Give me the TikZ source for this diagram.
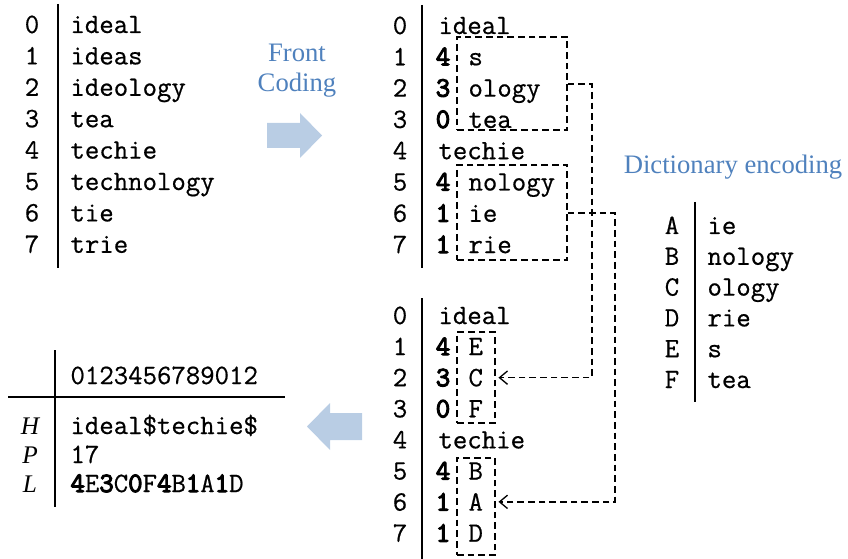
\documentclass[tikz,border=0pt]{standalone}
\usepackage{fontspec}
\setmainfont{Liberation Serif}
\setmonofont{Latin Modern Mono}[FakeBold=0.6]
\newfontfamily\monobold{Latin Modern Mono}[FakeBold=4]
\newcommand\bd[1]{{\monobold #1}}
\usetikzlibrary{arrows.meta,fit}

\definecolor{labelblue}{RGB}{79,129,189}
\definecolor{arrowblue}{RGB}{185,205,228}

\tikzset{every picture/.style={line width=0.75pt}}
\tikzset{
  mono/.style={inner sep=0pt, font=\fontsize{21}{24}\ttfamily},
  monob/.style={inner sep=0pt, font=\fontsize{21}{24}\monobold},
  sym/.style={inner sep=0pt, font=\fontsize{19}{22}\selectfont\itshape},
  rule/.style={line width=1.5pt},
  dashbox/.style={draw, line width=1.2pt, dash pattern={on 5pt off 3pt}, inner sep=0pt},
  link/.style={line width=1.2pt, dash pattern={on 5pt off 3pt}, -{Straight Barb[length=6pt,width=10pt,line width=1pt]}},
  caption/.style={inner sep=0pt, align=center, text=labelblue, font=\fontsize{20}{22.5}\selectfont},
  bigarrow/.style={fill=arrowblue, draw=none}
}

\begin{document}
\begin{tikzpicture}[x=0.75pt,y=0.75pt,yscale=-1,xscale=1]
	\useasboundingbox (0,0) rectangle (848,559);

	%Table: sorted strings
	\draw[rule] (58,4) -- (58,268);
	\foreach \w [count=\i from 0] in {ideal,ideas,ideology,tea,techie,technology,tie,trie}{
		\node[mono, anchor=base] (li\i) at (32,{33+31.4*\i}) {\i};
		\node[mono, anchor=base west] (lw\i) at (70,{33+31.4*\i}) {\w};
	}

	%Label + arrow: front coding
	\node[caption] (fclabel) at (297,71) {Front\\Coding};
	\draw[bigarrow] (267,123) -- (300,123) -- (300,113) -- (322,135.5) -- (300,158) -- (300,148) -- (267,148) -- cycle;

	%Table: front coded
	\draw[rule] (422,5) -- (422,268);
	\foreach \i in {0,...,7}{
		\node[mono, anchor=base] (fi\i) at (400,{34+31.3*\i}) {\i};
	}
	\node[mono, anchor=base west] (fw0) at (438,34) {ideal};
	\node[mono, anchor=base west] (fw4) at (438,159.2) {techie};
	\foreach \i/\p/\s in {1/4/s,2/3/ology,3/0/tea,5/4/nology,6/1/ie,7/1/rie}{
		\node[monob, anchor=base] (fp\i) at (443,{34+31.3*\i}) {\p};
		\node[mono, anchor=base west] (fs\i) at (468,{34+31.3*\i}) {\s};
	}
	\node[dashbox, fit={(457,37) (567,130)}] (boxS) {};
	\node[dashbox, fit={(457,165) (567,260)}] (boxN) {};

	%Label + table: dictionary
	\node[caption] (dictlabel) at (733,167) {Dictionary encoding};
	\draw[rule] (695,202) -- (695,402);
	\foreach \k/\v [count=\i from 0] in {A/ie,B/nology,C/ology,D/rie,E/s,F/tea}{
		\node[mono, anchor=base] (dk\i) at (672,{234+30.8*\i}) {\k};
		\node[mono, anchor=base west] (dv\i) at (707,{234+30.8*\i}) {\v};
	}

	%Table: dictionary coded
	\draw[rule] (422,298) -- (422,559);
	\foreach \i in {0,...,7}{
		\node[mono, anchor=base] (bi\i) at (400,{324+31.1*\i}) {\i};
	}
	\node[mono, anchor=base west] (bw0) at (438,324) {ideal};
	\node[mono, anchor=base west] (bw4) at (438,448.4) {techie};
	\foreach \i/\p/\s in {1/4/E,2/3/C,3/0/F,5/4/B,6/1/A,7/1/D}{
		\node[monob, anchor=base] (bp\i) at (443,{324+31.1*\i}) {\p};
		\node[mono, anchor=base west] (bs\i) at (468,{324+31.1*\i}) {\s};
	}
	\node[dashbox, fit={(457,332) (495,423)}] (boxE) {};
	\node[dashbox, fit={(457,458) (495,555)}] (boxB) {};

	%Dashed links
	\draw[link] (boxS.east |- 0,84) -- ++(24,0) |- ([xshift=2]boxE.east |- bs2);
	\draw[link] (boxN.east |- 0,213) -- ++(47,0) |- ([xshift=2]boxB.east |- bs6);

	%Arrow back
	\draw[bigarrow] (362,413) -- (330,413) -- (330,403) -- (307,426.5) -- (330,450) -- (330,440) -- (362,440) -- cycle;

	%Table: H P L
	\draw[rule] (55,350) -- (55,507);
	\draw[rule] (8,397) -- (285,397);
	\node[mono, anchor=base west] (head) at (70,384) {0123456789012};
	\node[sym, anchor=base] (hH) at (30,434) {H};
	\node[sym, anchor=base] (hP) at (30,463) {P};
	\node[sym, anchor=base] (hL) at (30,492) {L};
	\node[mono, anchor=base west] (vH) at (70,434) {ideal\$techie\$};
	\node[mono, anchor=base west] (vP) at (70,463) {17};
	\node[mono, anchor=base west] (vL) at (70,492) {\bd{4}E\bd{3}C\bd{0}F\bd{4}B\bd{1}A\bd{1}D};
\end{tikzpicture}
\end{document}
